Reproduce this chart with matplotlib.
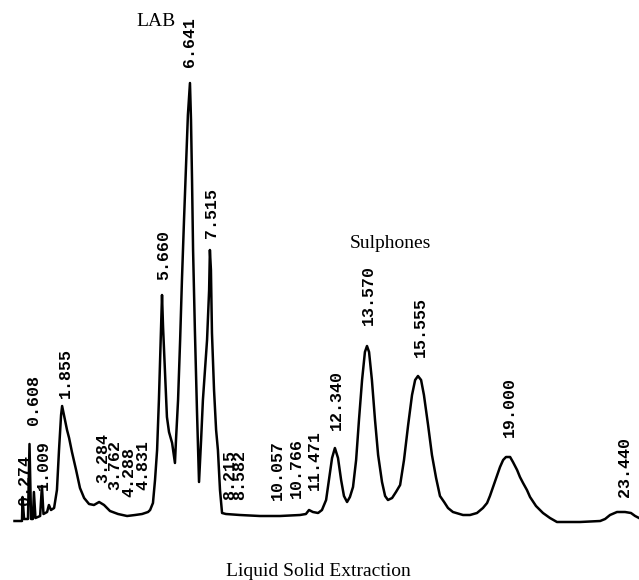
import matplotlib.pyplot as plt

# retention time (min) and detector response (arbitrary units)
time_min = [0.00, 0.29, 0.31, 0.37, 0.52, 0.58, 0.64, 0.71, 0.75, 0.81,
            0.99, 1.06, 1.12, 1.26, 1.33, 1.41, 1.53, 1.64, 1.72, 1.80,
            1.84, 1.91, 2.03, 2.11, 2.22, 2.38, 2.53, 2.69, 2.88, 3.07,
            3.27, 3.46, 3.69, 4.00, 4.35, 4.66, 4.93, 5.16, 5.24, 5.35,
            5.43, 5.51, 5.58, 5.66, 5.70, 5.74, 5.82, 5.89, 5.97, 6.09,
            6.20, 6.24, 6.32, 6.40, 6.47, 6.55, 6.63, 6.70, 6.78, 6.82,
            6.86, 6.90, 6.97, 7.05, 7.13, 7.21, 7.28, 7.36, 7.44, 7.52,
            7.55, 7.59, 7.63, 7.71, 7.79, 7.86, 7.94, 8.02, 8.17, 8.71,
            9.48, 10.26, 11.03, 11.26, 11.38, 11.53, 11.73, 11.88, 12.04, 12.15,
            12.27, 12.38, 12.50, 12.62, 12.73, 12.85, 12.96, 13.08, 13.20, 13.31,
            13.43, 13.54, 13.62, 13.70, 13.81, 13.93, 14.05, 14.20, 14.32, 14.43,
            14.59, 14.74, 14.90, 15.05, 15.21, 15.36, 15.48, 15.59, 15.71, 15.82,
            15.98, 16.13, 16.29, 16.44, 16.60, 16.75, 16.94, 17.33, 17.60, 17.87,
            18.10, 18.26, 18.37, 18.49, 18.64, 18.76, 18.88, 18.99, 19.15, 19.26,
            19.42, 19.53, 19.65, 19.80, 19.92, 20.15, 20.42, 20.69, 20.96, 21.27,
            21.85, 22.63, 22.82, 23.01, 23.28, 23.59, 23.82, 23.98, 24.13]

response = [-4, -4, 20, -2, -2, 73, -2, -2, 25, -1,
            1, 31, 3, 5, 12, 7, 9, 27, 67, 102,
            111, 102, 87, 79, 65, 47, 29, 19, 13, 12,
            15, 12, 6, 3, 1, 2, 3, 5, 7, 14,
            37, 67, 117, 187, 222, 190, 142, 100, 85, 74,
            54, 77, 117, 177, 237, 297, 352, 402, 434, 397,
            337, 267, 187, 107, 35, 77, 117, 147, 177, 227,
            267, 247, 184, 127, 87, 67, 27, 4, 3, 2,
            1, 1, 2, 3, 7, 5, 4, 7, 17, 37,
            59, 69, 59, 37, 21, 15, 20, 30, 57, 97,
            137, 165, 171, 165, 137, 97, 62, 35, 21, 17,
            19, 25, 32, 57, 92, 122, 137, 141, 137, 122,
            92, 62, 39, 21, 15, 9, 5, 2, 2, 4,
            9, 14, 21, 30, 41, 50, 57, 60, 60, 55,
            47, 40, 34, 27, 20, 11, 4, -1, -5, -5,
            -5, -4, -2, 2, 5, 5, 4, 1, -1]

# integrator peak labels
peak_labels = ['0.274', '0.608', '1.009', '1.855', '3.284', '3.762', '4.288',
               '4.831', '5.660', '6.641', '7.515', '8.215', '8.582', '10.057',
               '10.766', '11.471', '12.340', '13.570', '15.555', '19.000', '23.440']
label_base = [12, 92, 27, 119, 34, 27, 20, 27, 237, 450, 279, 17, 17, 17,
              19, 27, 87, 192, 160, 80, 20]

fig = plt.figure(figsize=(6.39, 5.8), dpi=100)
ax = fig.add_axes([0, 0, 1, 1])
ax.axis('off')

ax.plot(time_min, response, color='black', lw=1.8, solid_joinstyle='round')

for lbl, base in zip(peak_labels, label_base):
    ax.annotate(lbl, (float(lbl), base), xytext=(3, 0), textcoords='offset pixels',
                rotation=90, ha='center', va='bottom', fontsize=12,
                family='Liberation Mono', fontweight='bold')

ax.set_xlim(-0.56, 24.13)
ax.set_ylim(-63, 517)

fig.text(156 / 639, 1 - 22 / 580, 'LAB', ha='center', va='center',
         family='Liberation Serif', fontsize=14)
fig.text(390 / 639, 1 - 243 / 580, 'Sulphones', ha='center', va='center',
         family='Liberation Serif', fontsize=14)
fig.text(318 / 639, 1 - 571 / 580, 'Liquid Solid Extraction', ha='center', va='center',
         family='Liberation Serif', fontsize=14)

fig.savefig('out.png', dpi=100)
